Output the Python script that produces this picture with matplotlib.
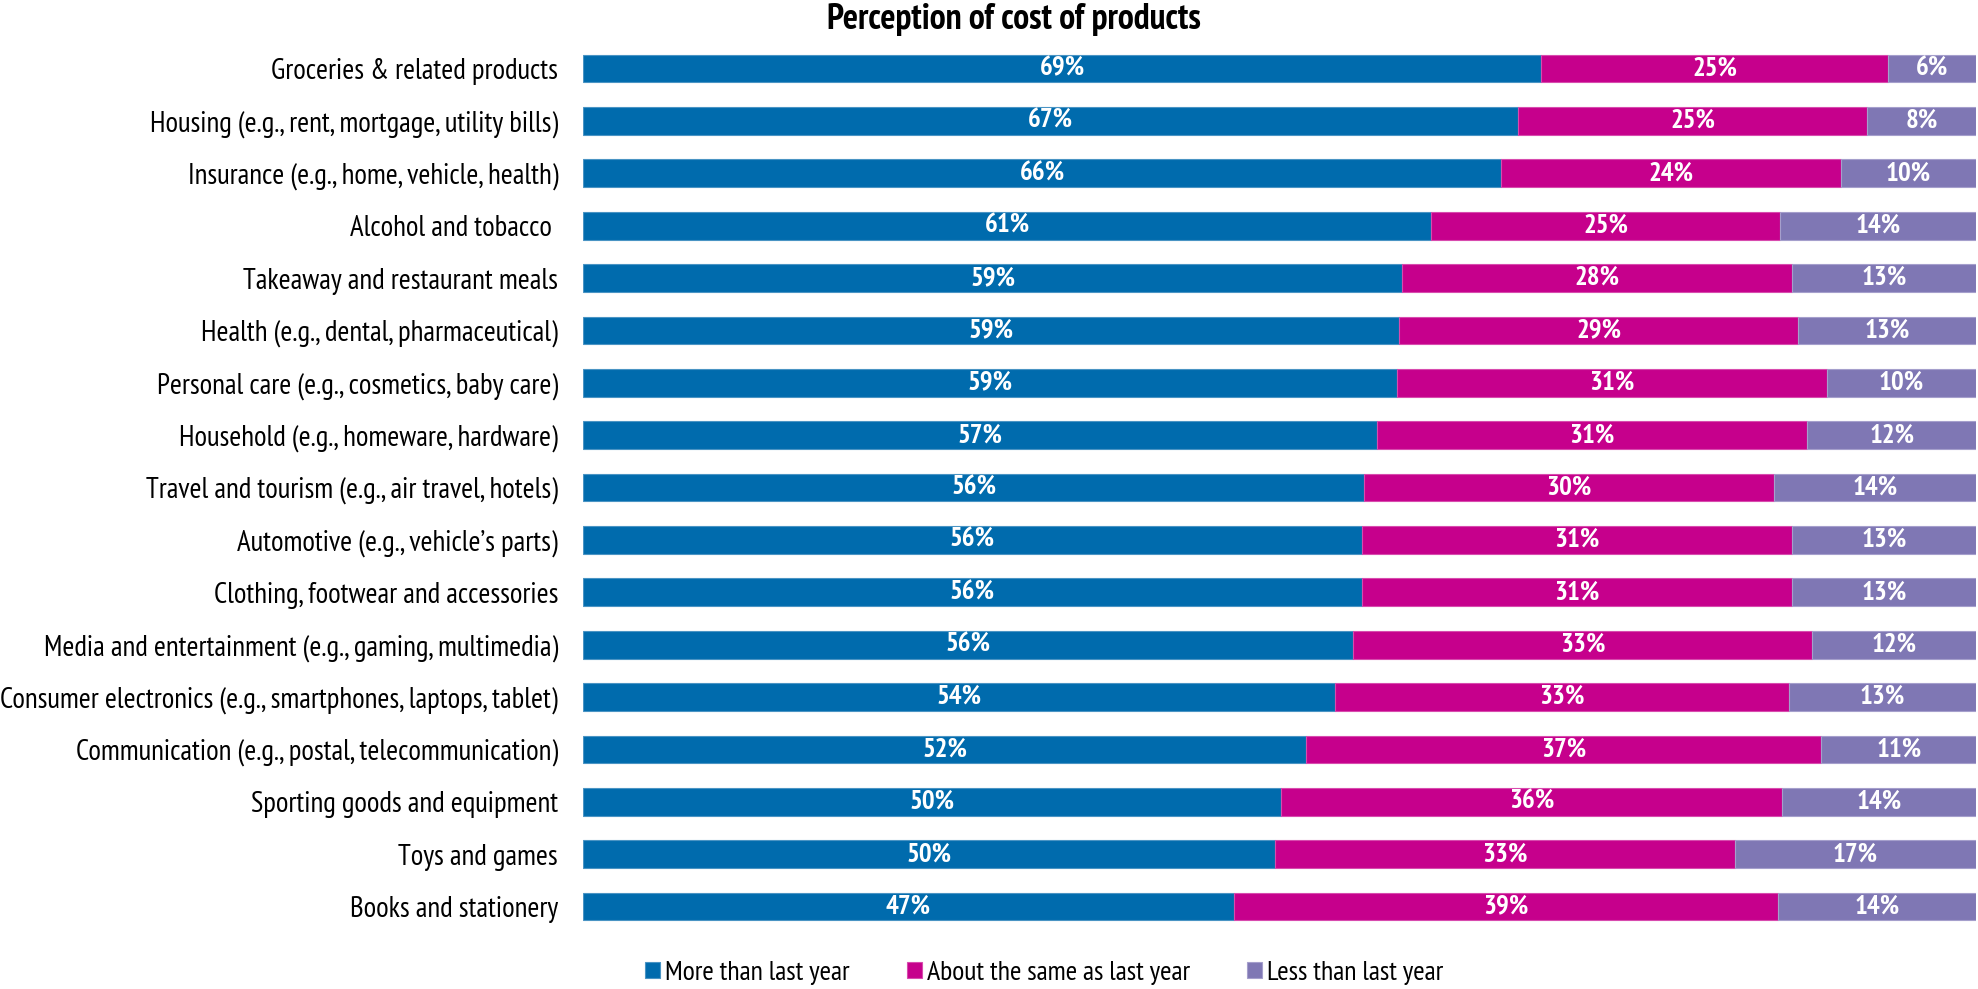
import matplotlib
matplotlib.use("Agg")
import matplotlib.pyplot as plt
from matplotlib import font_manager as fm
from matplotlib.patches import Patch


def weights(name):
    ws = set()
    for f in fm.fontManager.ttflist:
        if f.name == name:
            w = f.weight
            if isinstance(w, str):
                w = {"bold": 700, "normal": 400, "regular": 400}.get(w.lower(), 400)
            ws.add(int(w))
    return ws


CANDS = ["Arial Narrow", "Liberation Sans Narrow", "Archivo Narrow", "PT Sans Narrow",
         "Fira Sans Condensed", "Roboto Condensed", "Pragati Narrow", "Liberation Sans"]
FONT = None
for cand in CANDS:
    ws = weights(cand)
    if ws and any(w >= 700 for w in ws) and any(w <= 400 for w in ws):
        FONT = cand
        break
if FONT is None:
    FONT = "Liberation Sans"
plt.rcParams["font.family"] = [FONT, "DejaVu Sans"]

categories = [
    "Groceries & related products",
    "Housing (e.g., rent, mortgage, utility bills)",
    "Insurance (e.g., home, vehicle, health)",
    "Alcohol and tobacco ",
    "Takeaway and restaurant meals",
    "Health (e.g., dental, pharmaceutical)",
    "Personal care (e.g., cosmetics, baby care)",
    "Household (e.g., homeware, hardware)",
    "Travel and tourism (e.g., air travel, hotels)",
    "Automotive (e.g., vehicle\u2019s parts)",
    "Clothing, footwear and accessories",
    "Media and entertainment (e.g., gaming, multimedia)",
    "Consumer electronics (e.g., smartphones, laptops, tablet)",
    "Communication (e.g., postal, telecommunication)",
    "Sporting goods and equipment",
    "Toys and games",
    "Books and stationery",
]
more = [68.8, 67.1, 65.9, 60.9, 58.8, 58.6, 58.4, 57.0, 56.1, 55.9, 55.9, 55.3, 54.0, 51.9, 50.1, 49.7, 46.7]
same = [24.9, 25.1, 24.4, 25.0, 28.0, 28.6, 30.9, 30.9, 29.4, 30.9, 30.9, 32.9, 32.6, 37.0, 36.0, 33.0, 39.1]
less = [6.3, 7.8, 9.7, 14.1, 13.2, 12.8, 10.7, 12.1, 14.5, 13.2, 13.2, 11.8, 13.4, 11.1, 13.9, 17.3, 14.2]
more_lbl = ["69%", "67%", "66%", "61%", "59%", "59%", "59%", "57%", "56%", "56%", "56%", "56%", "54%", "52%", "50%", "50%", "47%"]
same_lbl = ["25%", "25%", "24%", "25%", "28%", "29%", "31%", "31%", "30%", "31%", "31%", "33%", "33%", "37%", "36%", "33%", "39%"]
less_lbl = ["6%", "8%", "10%", "14%", "13%", "13%", "10%", "12%", "14%", "13%", "13%", "12%", "13%", "11%", "14%", "17%", "14%"]
series_names = ["More than last year", "About the same as last year", "Less than last year"]
title = "Perception of cost of products"

colors = ["#006BAD", "#C6008C", "#7F77B4"]
edges = ["#4A94C4", "#D84BAE", "#A59FCC"]

W, H = 1978, 989
fig = plt.figure(figsize=(W / 100, H / 100), dpi=100)
renderer = fig.canvas.get_renderer()


def fit_size(s, target_px, weight="normal", base=20.0):
    t = fig.text(0, 0, s, fontsize=base, fontweight=weight)
    w = t.get_window_extent(renderer=renderer).width
    t.remove()
    return base * target_px / w


fs_cat = fit_size(categories[12], 554)
fs_title = fit_size(title, 376, "bold")
fs_bar = fit_size("10%", 45, "bold")
fs_leg = fit_size(series_names[0], 185)

ax = fig.add_axes([583 / W, 0.0569, (1976 - 583) / W, 0.9572 - 0.0569])

y = list(range(len(categories)))
left = [0.0] * len(categories)
for vals, lbls, c, ec in zip([more, same, less], [more_lbl, same_lbl, less_lbl], colors, edges):
    ax.barh(y, vals, left=left, height=0.53, color=c, edgecolor=ec, linewidth=0.8)
    for yi, l, v, t in zip(y, left, vals, lbls):
        ax.text(l + v / 2, yi, t, ha="center", va="center", color="white",
                fontsize=fs_bar, fontweight="bold")
    left = [a + b for a, b in zip(left, vals)]

ax.set_xlim(0, 100)
ax.set_ylim(len(categories) - 0.5, -0.5)
ax.set_yticks(y)
ax.set_yticklabels(categories, fontsize=fs_cat)
ax.tick_params(axis="y", length=0, pad=(583 - 558) * 0.72)
ax.set_xticks([])
for s in ax.spines.values():
    s.set_visible(False)

fig.text(1014 / W, 1 - 20 / H, title, ha="center", va="center", fontsize=fs_title, fontweight="bold")

leg_px = fs_leg * 100 / 72
handles = [Patch(facecolor=c, edgecolor=ec, linewidth=0.8) for c, ec in zip(colors, edges)]
fig.legend(handles, series_names, loc="center left", bbox_to_anchor=(645 / W, 1 - 973 / H),
           ncol=3, frameon=False, fontsize=fs_leg, borderpad=0, borderaxespad=0,
           handlelength=15 / leg_px, handleheight=15 / leg_px,
           handletextpad=5 / leg_px, columnspacing=57 / leg_px)

fig.savefig("out.png", dpi=100)
